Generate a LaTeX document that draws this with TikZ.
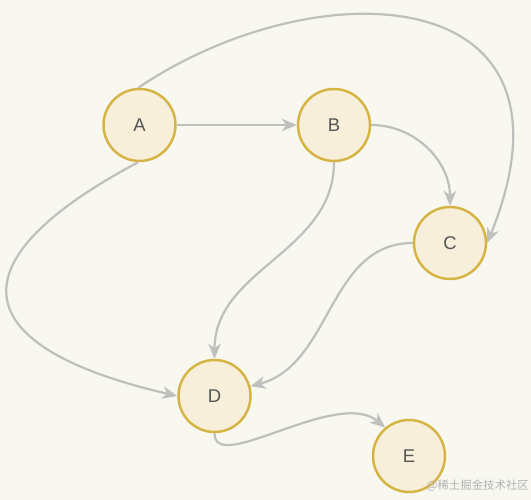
\documentclass[tikz,border=0pt]{standalone}
\usepackage{fontspec}
\setmainfont{Liberation Sans}
\newfontfamily\cjkfont{Noto Sans CJK SC}
\usetikzlibrary{automata,positioning,arrows.meta}
\definecolor{paper}{HTML}{F8F7F0}
\definecolor{nodefill}{HTML}{F7EFDA}
\definecolor{nodeline}{HTML}{D6B443}
\definecolor{edgegray}{HTML}{BFBFBD}
\definecolor{labelgray}{HTML}{555555}

\begin{document}
\begin{tikzpicture}[>={Stealth[length=3mm, width=2.5mm, inset=0.9mm]}, node distance =3.89 cm, on
grid, auto,
every state/.style={draw=nodeline, fill=nodefill, line width=1.4pt, minimum size=1.44cm, inner sep=0pt, text=labelgray, font=\fontsize{10.5}{12}\selectfont},
link/.style={draw=edgegray, line width=1.25pt}]
\useasboundingbox (0,0) rectangle (10.62,-10);
\fill [paper] (0,0) rectangle (10.62,-10);
\node [state] (A) at (2.79,-2.5) {A};
\node [state] (B) [right = of A] {B};
\node [state] (C) [below right = 2.36cm and 2.32cm of B] {C};
\node [state] (D) [below right = 5.42cm and 1.5cm of A] {D};
\node [state] (E) [below right = 1.2cm and 3.89cm of D] {E};
\node [anchor=east, inner sep=1pt, text=gray!60, font=\cjkfont\fontsize{6.5}{8}\selectfont] (wm) at (10.62,-9.71) {@稀土掘金技术社区};
\path [->, every edge/.style=link]
(A) edge (B)
(A.92) edge [out=34, in=68, out distance=4.3cm, in distance=5.7cm] (C.east)
(A.268) edge [out=208, in=167, distance=4.3cm] (D.west)
(B) edge [out=0, in=90] (C)
edge [out=-90, in=90] (D)
(C) edge [out=180, in=15] (D)
(D) edge [out=-90, in=140, out distance=0.85cm, in distance=1.25cm] (E.130);
\end{tikzpicture}
\end{document}
